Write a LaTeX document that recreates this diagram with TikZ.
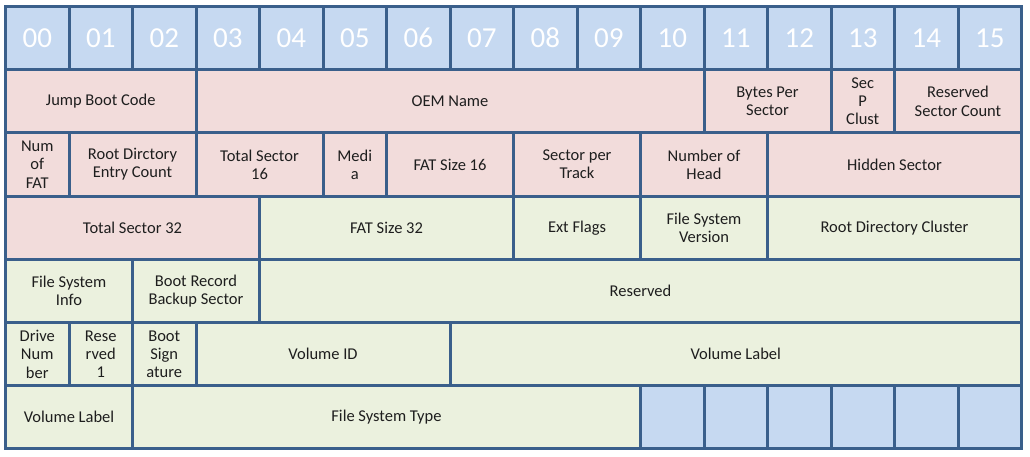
\documentclass[tikz,border=0pt]{standalone}
\usepackage{fontspec}
\setmainfont{Carlito}
\definecolor{hdrblue}{HTML}{C6D9F1}
\definecolor{pinkc}{HTML}{F2DCDB}
\definecolor{greenc}{HTML}{EBF1DE}
\definecolor{edgec}{HTML}{3A5F8B}
\definecolor{txtc}{HTML}{1E1E1E}
\tikzset{
  cellbox/.style={draw=edgec, line width=3pt, rectangle, inner sep=0pt, align=center,
    minimum height=63.2pt, text=txtc, font=\fontsize{16.5}{18.3}\selectfont},
  hdrbox/.style={cellbox, fill=hdrblue, text=white, font=\fontsize{29}{30}\selectfont},
}
\newcommand\cellat[6]{%
  \node[cellbox, fill=#5, minimum width={(#3-#2+1)*63.5pt}] (#1)
    at ({5.5+(#2+#3+1)*63.5/2},{-(6.5+(#4+0.5)*63.2)}) {#6};}
\newcommand\hdrat[3]{%
  \node[hdrbox, minimum width=63.5pt] (#1)
    at ({5.5+(#2+0.5)*63.5},{-(6.5+0.5*63.2)}) {#3};}
\begin{document}
\begin{tikzpicture}[x=1pt,y=1pt]
\useasboundingbox (0,0) rectangle (1030,-457);
\fill[white] (0,0) rectangle (1030,-457);
% header row
\hdrat{h0}{0}{00}\hdrat{h1}{1}{01}\hdrat{h2}{2}{02}\hdrat{h3}{3}{03}
\hdrat{h4}{4}{04}\hdrat{h5}{5}{05}\hdrat{h6}{6}{06}\hdrat{h7}{7}{07}
\hdrat{h8}{8}{08}\hdrat{h9}{9}{09}\hdrat{h10}{10}{10}\hdrat{h11}{11}{11}
\hdrat{h12}{12}{12}\hdrat{h13}{13}{13}\hdrat{h14}{14}{14}\hdrat{h15}{15}{15}
% row 1
\cellat{jbc}{0}{2}{1}{pinkc}{Jump Boot Code}
\cellat{oem}{3}{10}{1}{pinkc}{OEM Name}
\cellat{bps}{11}{12}{1}{pinkc}{Bytes Per\\Sector}
\cellat{spc}{13}{13}{1}{pinkc}{Sec\\P\\Clust}
\cellat{rsc}{14}{15}{1}{pinkc}{Reserved\\Sector Count}
% row 2
\cellat{nof}{0}{0}{2}{pinkc}{Num\\of\\FAT}
\cellat{rdec}{1}{2}{2}{pinkc}{Root Dirctory\\Entry Count}
\cellat{ts16}{3}{4}{2}{pinkc}{Total Sector\\16}
\cellat{media}{5}{5}{2}{pinkc}{Medi\\a}
\cellat{fs16}{6}{7}{2}{pinkc}{FAT Size 16}
\cellat{spt}{8}{9}{2}{pinkc}{Sector per\\Track}
\cellat{noh}{10}{11}{2}{pinkc}{Number of\\Head}
\cellat{hs}{12}{15}{2}{pinkc}{Hidden Sector}
% row 3
\cellat{ts32}{0}{3}{3}{pinkc}{Total Sector 32}
\cellat{fs32}{4}{7}{3}{greenc}{FAT Size 32}
\cellat{ext}{8}{9}{3}{greenc}{Ext Flags}
\cellat{fsv}{10}{11}{3}{greenc}{File System\\Version}
\cellat{rdc}{12}{15}{3}{greenc}{Root Directory Cluster}
% row 4
\cellat{fsi}{0}{1}{4}{greenc}{File System\\Info}
\cellat{brbs}{2}{3}{4}{greenc}{Boot Record\\Backup Sector}
\cellat{res}{4}{15}{4}{greenc}{Reserved}
% row 5
\cellat{dn}{0}{0}{5}{greenc}{Drive\\Num\\ber}
\cellat{r1}{1}{1}{5}{greenc}{Rese\\rved\\1}
\cellat{bs}{2}{2}{5}{greenc}{Boot\\Sign\\ature}
\cellat{vid}{3}{6}{5}{greenc}{Volume ID}
\cellat{vl}{7}{15}{5}{greenc}{Volume Label}
% row 6
\cellat{vl2}{0}{1}{6}{greenc}{Volume Label}
\cellat{fst}{2}{9}{6}{greenc}{File System Type}
\cellat{e10}{10}{10}{6}{hdrblue}{}
\cellat{e11}{11}{11}{6}{hdrblue}{}
\cellat{e12}{12}{12}{6}{hdrblue}{}
\cellat{e13}{13}{13}{6}{hdrblue}{}
\cellat{e14}{14}{14}{6}{hdrblue}{}
\cellat{e15}{15}{15}{6}{hdrblue}{}
\end{tikzpicture}
\end{document}
